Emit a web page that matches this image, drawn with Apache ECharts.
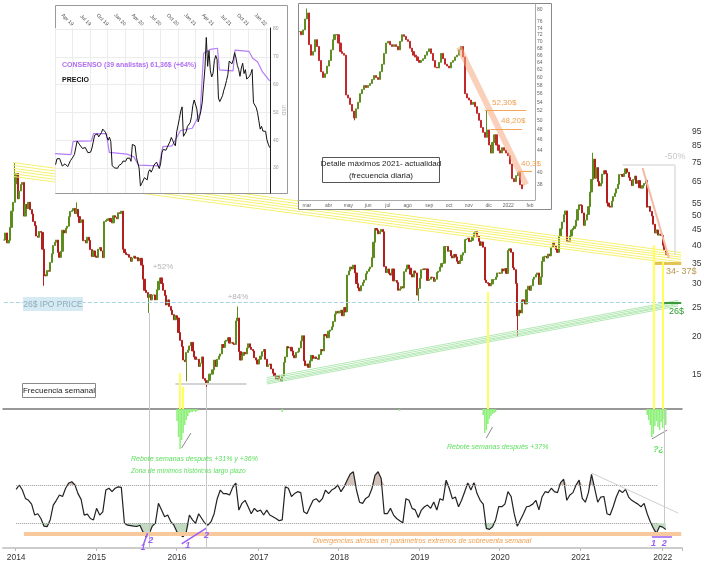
<!DOCTYPE html>
<html><head><meta charset="utf-8">
<script src="https://cdn.jsdelivr.net/npm/echarts@6/dist/echarts.min.js"></script>
<style>html,body{margin:0;padding:0;background:#fff}#c{width:714px;height:569px}</style>
</head><body><div id="c"></div>
<script>
// ---------------- DATA ----------------
// Weekly closes (USD), weeks ending Friday, starting 2013-11-08
const closes2013 = [41.7, 44.0, 40.8, 41.6, 45.9, 51.9, 55.5, 63.8];
const closes2014 = [69.0, 57.0, 60.5, 63.5, 64.5, 50.0, 54.6, 53.0, 55.5, 52.5, 50.8, 48.0, 46.5, 43.0, 42.6, 44.5, 44.2, 38.9, 32.0, 31.8, 33.1, 32.9, 35.2, 37.6, 40.0, 41.0, 41.7, 38.0, 36.6, 38.3, 44.9, 44.0, 45.6, 46.3, 49.8, 51.8, 52.1, 53.0, 51.0, 52.6, 49.8, 47.6, 48.6, 41.5, 41.6, 40.8, 42.6, 41.6, 38.8, 36.8, 38.4, 36.9];
const closes2015 = [36.6, 38.9, 39.4, 38.4, 36.5, 48.0, 48.4, 48.9, 49.1, 48.0, 47.5, 50.1, 49.6, 49.0, 51.3, 51.0, 51.9, 38.9, 37.9, 37.4, 37.3, 36.6, 35.5, 36.4, 36.9, 36.3, 36.5, 35.6, 36.3, 34.5, 31.0, 28.5, 28.0, 27.0, 27.6, 26.5, 27.5, 27.5, 26.5, 28.6, 30.5, 31.3, 30.0, 28.5, 27.4, 25.5, 26.5, 25.2, 24.5, 23.7, 22.8, 23.5];
const closes2016 = [23.1, 20.7, 19.5, 18.6, 16.8, 16.6, 17.8, 18.1, 18.7, 19.2, 18.0, 17.2, 16.9, 16.9, 16.0, 16.4, 17.2, 14.6, 14.4, 14.0, 14.4, 15.1, 15.1, 15.6, 16.8, 16.0, 16.9, 17.3, 17.6, 18.9, 18.5, 19.4, 19.5, 19.9, 19.1, 19.2, 19.0, 18.9, 22.6, 23.1, 17.9, 16.8, 17.4, 17.8, 17.6, 18.4, 19.0, 18.5, 18.2, 18.0, 17.1, 16.8, 16.3];
const closes2017 = [16.9, 17.3, 17.9, 18.2, 16.9, 16.0, 16.2, 16.3, 15.7, 15.2, 14.9, 14.5, 14.95, 14.6, 14.3, 14.9, 16.5, 17.2, 18.6, 18.4, 18.5, 18.0, 17.4, 17.1, 17.8, 17.9, 18.4, 19.4, 20.2, 16.7, 16.1, 16.3, 15.9, 16.7, 17.4, 17.0, 17.2, 17.0, 16.9, 17.5, 18.2, 18.0, 20.4, 20.2, 19.9, 20.9, 21.1, 21.6, 22.5, 23.8, 24.3, 24.0];
const closes2018 = [24.3, 24.5, 23.5, 25.0, 24.2, 32.0, 33.0, 34.0, 33.5, 34.5, 32.5, 30.0, 29.0, 28.4, 29.5, 30.2, 30.8, 32.3, 32.9, 33.5, 34.0, 36.5, 41.0, 45.5, 45.0, 43.7, 44.5, 45.2, 44.4, 34.1, 32.6, 33.5, 32.4, 32.0, 33.5, 30.6, 30.7, 30.2, 28.5, 28.8, 29.3, 29.0, 32.8, 33.5, 34.5, 33.7, 32.2, 31.5, 33.0, 32.5, 27.5, 28.9];
const closes2019 = [31.2, 33.3, 33.5, 33.4, 33.5, 30.7, 31.0, 31.5, 31.4, 30.5, 31.0, 32.6, 32.9, 34.0, 34.9, 35.0, 39.7, 39.7, 38.3, 38.5, 37.0, 36.4, 37.4, 36.7, 35.5, 34.9, 35.7, 37.2, 37.9, 41.8, 42.0, 42.3, 41.2, 41.6, 42.7, 44.0, 44.4, 42.9, 41.3, 40.0, 41.1, 39.5, 30.8, 30.2, 30.0, 29.5, 29.9, 30.9, 30.9, 31.5, 32.5, 32.5];
const closes2020 = [32.4, 33.5, 33.0, 33.6, 32.4, 38.5, 39.0, 38.0, 33.8, 33.3, 30.0, 23.5, 24.5, 24.0, 26.5, 26.3, 25.7, 28.6, 29.4, 28.5, 29.5, 31.0, 31.5, 32.1, 32.5, 29.8, 31.5, 35.5, 36.7, 36.9, 36.4, 37.5, 37.0, 39.5, 41.0, 39.9, 38.8, 38.0, 43.0, 45.4, 47.8, 50.5, 52.0, 41.4, 41.3, 43.0, 45.0, 45.5, 46.3, 48.5, 52.5, 54.5];
const closes2021 = [54.2, 51.2, 46.6, 48.5, 50.6, 53.7, 60.0, 66.0, 77.0, 66.6, 72.2, 65.0, 62.8, 64.1, 68.7, 70.5, 69.0, 55.2, 53.9, 53.5, 56.0, 58.0, 59.5, 61.5, 63.6, 68.5, 68.5, 67.5, 69.0, 71.5, 69.7, 67.0, 65.5, 63.0, 66.0, 67.7, 64.0, 65.4, 62.0, 61.8, 63.0, 64.0, 65.5, 53.5, 53.8, 51.8, 50.0, 47.0, 44.0, 45.0, 43.3, 43.6, 43.2];
const closes2022 = [40.1, 38.6, 37.35];
const wickHighs = [['2013-12-27', 74.7], ['2014-10-03', 55.5], ['2016-09-30', 25.2], ['2021-02-26', 80.8]];
const wickLows = [['2014-05-09', 29.5], ['2015-08-28', 24.0], ['2016-02-12', 14.3], ['2016-05-13', 13.7], ['2018-12-28', 26.3], ['2020-03-20', 20.0]];
const priceTicks = [15, 20, 25, 30, 35, 40, 45, 50, 55, 65, 75, 85, 95];
const lastPrice = 37.35;

// Weekly oscillator, one reading every 2 weeks from 2014-01-03
const osc2014 = [65.4, 70, 64.7, 56, 54, 50, 38.6, 40, 35, 27, 26.5, 33.5, 49, 54, 59.6, 58, 66.6, 72, 73.4, 70, 61, 55, 38.6, 39.6, 35, 33.5];
const osc2015 = [45.6, 38.6, 42, 64.7, 66.6, 63, 66.6, 68, 67.5, 30, 28, 27.5, 27, 26.7, 28, 21, 16, 19, 27, 30, 50.8, 43.8, 36.9, 38.6, 31.7, 28];
const osc2016 = [21, 17.7, 16, 21, 38.6, 33.5, 30, 40, 35, 30, 28, 31.7, 40, 55.7, 64.7, 61, 61, 59.6, 67.5, 72, 43.8, 50.8, 54, 47.3, 40, 45.6, 42.3];
const osc2017 = [43.8, 38.6, 43.8, 38.6, 36.9, 35, 32.7, 33.5, 68, 66.6, 58, 61, 63, 62, 42, 40, 47.3, 54, 55.7, 52.2, 55.7, 64.7, 61, 64.7, 66.6, 70];
const osc2018 = [63, 68, 75, 81.4, 83.8, 65, 52, 50.8, 56, 58, 66, 80, 83.8, 76.8, 40, 40, 45.6, 38.6, 35, 32.7, 30.5, 55.7, 54, 45.6, 44, 36];
const osc2019 = [43.8, 47.3, 49, 45.6, 52.2, 43.8, 55.7, 54, 75, 66.6, 55.7, 57.4, 47.3, 54, 63, 72, 64.7, 72.4, 61, 54, 50, 24.7, 23.6, 26.4, 33.5, 47.3];
const osc2020 = [47.3, 50, 63, 58, 40, 27, 33.5, 40, 47.3, 48, 50, 54, 44, 57.4, 63, 62, 66.6, 63, 62, 72.4, 76, 54, 59.6, 62, 70, 75];
const osc2021 = [56, 52, 62, 81, 66.6, 52, 57.4, 58, 40, 38.6, 47.3, 57.4, 64.7, 62, 65.4, 57.4, 54, 52, 50, 47.3, 50.8, 40, 31.7, 24.7, 19.5, 27, 26];
const osc2022 = [23.6];
const oscUpper = 70, oscLower = 30, oscExtreme = 19.5;

// Weekly histogram (depth below zero), blocks of consecutive weeks
const histBlocks = [
  ['2016-01-01', [12, 28, 40, 31, 24, 16, 11, 7, 4, 3, 3, 2, 3, 2]],
  ['2017-04-21', [3]],
  ['2018-10-05', [2]],
  ['2019-10-18', [6, 24, 21, 15, 10, 7, 5, 4, 3]],
  ['2021-10-29', [6, 11, 16, 28, 25, 17, 12, 18, 21, 13, 19, 10, 16]]
];

// Inset 1: analysts' consensus target (USD)
const consensusDates = ['2019-01-01','2019-03-25','2019-04-05','2019-07-10','2019-07-20','2019-09-25','2019-10-10','2020-01-10','2020-02-15','2020-03-10','2020-06-25','2020-07-15','2020-09-01','2020-10-15','2020-12-15','2021-01-25','2021-02-12','2021-03-20','2021-04-25','2021-05-05','2021-07-15','2021-07-25','2021-10-05','2021-10-25','2021-11-20','2021-12-15','2022-01-21'];
const consensusValues = [35.2, 34.8, 39.6, 39.8, 42.4, 42.4, 35.6, 35.0, 34.0, 31.0, 30.8, 37.7, 38.0, 43.5, 44.3, 49.7, 71.3, 72.7, 73.1, 65.3, 65.0, 72.4, 72.0, 69.5, 68.2, 64.6, 61.4];
const inset1Ticks = [30, 40, 50, 60, 70, 80];

// Inset 2: "daily" detail, one reading every 3 days from 2021-02-17
const dailyCloses = [73.0, 72.0, 73.5, 77.0,
  79.0, 69.0, 66.0, 67.0, 70.5, 68.5, 64.5, 61.5, 60.0, 61.0, 63.0,
  64.5, 67.5, 70.5, 72.0, 72.0, 69.5, 67.0, 66.5, 66.0, 55.7,
  55.0, 53.5, 52.0, 50.5, 52.5, 54.0, 56.0, 57.0, 58.0, 57.5,
  58.0, 58.5, 59.5, 60.5, 60.0, 59.5, 61.5, 63.5, 66.5, 69.5,
  70.0, 69.0, 68.5, 69.0, 68.5, 67.5, 70.0, 72.0, 71.5, 70.5,
  70.0, 68.0, 67.0, 66.0, 65.5, 64.5, 64.0, 64.5, 65.0, 66.0, 67.0,
  67.8, 66.5, 64.5, 62.7, 62.5, 64.0, 66.5, 65.0, 63.5, 63.0,
  62.5, 64.0, 64.5, 65.5, 66.0, 67.5, 68.5, 65.5, 56.0, 55.0,
  54.5, 53.5, 54.0, 53.0, 51.5, 50.0, 48.5, 47.5, 46.5, 48.0,
  45.0, 43.5, 45.5, 47.0, 45.0, 44.0, 43.5, 44.5, 44.0, 43.5,
  43.0, 41.5, 39.0, 38.5, 39.5, 40.0, 38.0, 37.35];
const dailyHighs = [['2021-03-01', 80.5], ['2021-11-29', 52.3]];
const dailyLows = [['2021-05-12', 50.0]];
const dailyTicks = [38, 40, 44, 46, 48, 50, 52, 54, 56, 58, 60, 62, 64, 66, 68, 70, 72, 74, 76, 80];
const levels2 = [52.3, 48.2, 40.3];

// ---------------- BUILD ----------------
const LN = Math.log, DAY = 864e5;
const fmt = t => new Date(t).toISOString().slice(0, 10);
const NW = 439;
const weekCats = Array.from({length: NW}, (_, i) => fmt(Date.UTC(2013, 10, 8) + i * 7 * DAY));
const closes = [].concat(closes2013, closes2014, closes2015, closes2016, closes2017, closes2018, closes2019, closes2020, closes2021, closes2022);
const hiMap = Object.fromEntries(wickHighs), loMap = Object.fromEntries(wickLows);
const candle = closes.map((c, i) => {
  const o = i ? closes[i - 1] : c, d = weekCats[i];
  const lo = loMap[d] || Math.min(o, c), hi = hiMap[d] || Math.max(o, c);
  return [LN(o), LN(c), LN(lo), LN(hi)];
});
const oscAll = [].concat(osc2014, osc2015, osc2016, osc2017, osc2018, osc2019, osc2020, osc2021, osc2022);
const oscPts = oscAll.map((v, k) => [weekCats[8 + 2 * k], v]);
const hiBase = oscPts.map(p => [p[0], oscUpper]);
const hiTop = oscPts.map(p => [p[0], Math.max(p[1], oscUpper) - oscUpper]);
const loBase = oscPts.map(p => [p[0], Math.min(p[1], oscLower)]);
const loTop = oscPts.map(p => [p[0], oscLower - Math.min(p[1], oscLower)]);
const histData = Array(NW).fill(null);
histBlocks.forEach(([d, arr]) => { const s = weekCats.indexOf(d); arr.forEach((v, j) => histData[s + j] = -v); });

const decYear = d => { const y = +d.slice(0, 4), t = Date.parse(d + 'T00:00:00Z'), a = Date.UTC(y, 0, 1), b = Date.UTC(y + 1, 0, 1); return y + (t - a) / (b - a); };
const inset1Price = closes.map((c, i) => [decYear(weekCats[i]), c]).filter(p => p[0] >= 2019);
const inset1Cons = consensusDates.map((d, i) => [decYear(d), consensusValues[i]]);

const cats2 = Array.from({length: 120}, (_, i) => fmt(Date.UTC(2021, 1, 17) + i * 3 * DAY));
const dHi = Object.fromEntries(dailyHighs), dLo = Object.fromEntries(dailyLows);
const candle2 = dailyCloses.map((c, i) => {
  const o = i ? dailyCloses[i - 1] : c, d = cats2[i];
  const lo = dLo[d] || Math.min(o, c), hi = dHi[d] || Math.max(o, c);
  return [LN(o), LN(c), LN(lo), LN(hi)];
});
const mesesES = ['ene','feb','mar','abr','may','jun','jul','ago','sep','oct','nov','dic'];

// price scale (log): 132 px per ln unit
const PMIN = LN(15) - 34 / 132, PMAX = LN(15) + 265 / 132;
const seg = (d1, v1, d2, v2, ls) => [{coord: [d1, v1], lineStyle: Object.assign({type: 'solid'}, ls)}, {coord: [d2, v2]}];
const P = LN;
const UP = '#5d8d1f', DOWN = '#b21f1f';
const FONT = 'Liberation Sans, Arial, sans-serif';

const yellowLeft = [75.0, 73.4, 71.8, 70.4, 68.9, 67.5], yellowRight = [37.9, 37.2, 36.6, 36.0, 35.3, 34.7];
const greenLeft = [14.7, 14.5, 14.3, 14.15, 14.0], greenRight = [26.4, 26.1, 25.8, 25.6, 25.3];
const ylw = {color: '#f6f070', width: 1}, grn = {color: '#b4e8b4', width: 1};
const mainLines = [];
yellowLeft.forEach((v, i) => mainLines.push(seg('2013-12-20', P(v), '2022-04-01', P(yellowRight[i]), ylw)));
greenLeft.forEach((v, i) => mainLines.push(seg('2017-02-10', P(v), '2022-03-18', P(greenRight[i]), grn)));
mainLines.push(seg('2013-11-08', P(26), '2022-04-01', P(26), {color: '#a6d3e6', type: 'dashed', width: 1}));
mainLines.push(seg('2015-12-25', P(14.0), '2016-11-11', P(14.0), {color: '#d4d4d4', width: 2}));
mainLines.push(seg('2021-07-09', P(73.5), '2022-03-04', P(73.5), {color: '#dedede', width: 1.5}));
mainLines.push(seg('2022-03-04', P(73.5), '2022-03-04', P(37.3), {color: '#dedede', width: 1.5}));
mainLines.push(seg('2021-10-08', P(72), '2022-02-04', P(36.4), {color: '#f3b9a2', width: 2}));
mainLines.push(seg('2021-12-03', P(35.1), '2022-04-01', P(35.1), {color: '#e3c25a', width: 3}));
mainLines.push(seg('2022-01-14', P(26), '2022-04-01', P(26), {color: '#3a9a3a', width: 2}));
[['2016-01-15', 15.2], ['2016-01-29', 13.7], ['2019-11-08', 28.1], ['2021-11-26', 40.1], ['2022-01-07', 35.3]].forEach(([d, v]) =>
  mainLines.push(seg(d, P(v), d, PMIN, {color: '#ffff55', width: 2})));
[['2015-08-28', 24.0], ['2016-05-13', 13.7]].forEach(([d, v]) =>
  mainLines.push(seg(d, P(v), d, PMIN, {color: '#c8c8c8', width: 1})));
mainLines.push([{coord: ['2022-01-21', P(lastPrice)], lineStyle: {opacity: 0},
  label: {show: true, position: 'end', formatter: '37,35', distance: 9, backgroundColor: '#f0c23c', color: '#222', fontWeight: 'bold', fontSize: 8, padding: [1, 2], fontFamily: FONT}},
  {coord: ['2022-04-01', P(lastPrice)]}]);

const gv = {color: '#c8c8c8', width: 1};
const histLines = [
  seg('2016-01-22', -39, '2016-03-04', -24, {color: '#888', width: 1}),
  seg('2019-11-01', -29, '2019-11-29', -18, {color: '#888', width: 1}),
  seg('2021-11-19', -30, '2022-01-28', -21, {color: '#888', width: 1}),
  seg('2015-08-28', 0, '2015-08-28', -46, gv),
  seg('2016-05-13', 0, '2016-05-13', -46, gv),
  seg('2022-01-14', 0, '2022-01-14', -46, gv)
];
const purple = {color: '#9a5cf5', width: 1.5};
const oscLines = [
  seg('2014-01-03', oscUpper, '2021-12-17', oscUpper, {color: '#999', type: 'dotted', width: 1}),
  seg('2014-01-03', oscLower, '2021-12-17', oscLower, {color: '#999', type: 'dotted', width: 1}),
  seg('2014-02-07', oscExtreme, '2022-04-01', oscExtreme, {color: '#f8c99c', width: 4}),
  seg('2015-07-31', 6.3, '2015-08-21', 19.8, purple),
  seg('2016-01-22', 8.4, '2016-05-13', 25, purple),
  seg('2021-11-19', 15.7, '2022-02-18', 15.7, purple),
  seg('2021-02-19', 82.5, '2022-03-18', 40.7, {color: '#cfcfcf', width: 1}),
  seg('2015-08-28', 101.3, '2015-08-28', 4.2, gv),
  seg('2016-05-13', 101.3, '2016-05-13', 4.2, gv),
  seg('2022-01-14', 101.3, '2022-01-14', oscLower, gv)
];
const lab = (d, v, t) => ({coord: [d, v], symbolSize: 0, label: {show: true, position: 'inside', formatter: t, color: '#9a5cf5', fontStyle: 'italic', fontWeight: 'bold', fontSize: 9, fontFamily: FONT}});
const oscLabels = [lab('2015-07-31', 5.2, '1'), lab('2015-09-04', 11.5, '2'), lab('2016-02-19', 6.3, '1'), lab('2016-05-13', 17.7, '2'), lab('2021-11-26', 8.4, '1'), lab('2022-01-14', 8.4, '2')];

const or = {color: '#f2a65a', width: 1.2};
const inset2Lines = [
  seg('2021-10-18', P(68.3), '2022-01-28', P(38.0), {color: 'rgba(245,170,130,0.55)', width: 6}),
  seg('2021-11-26', P(levels2[0]), '2022-01-28', P(levels2[0]), or),
  seg('2021-12-05', P(levels2[1]), '2022-01-22', P(levels2[1]), or),
  seg('2022-01-16', P(levels2[2]), '2022-02-06', P(levels2[2]), or),
  [{coord: ['2022-01-22', P(lastPrice)], lineStyle: {opacity: 0},
    label: {show: true, position: 'end', formatter: '37,35', distance: 3, backgroundColor: '#f0c23c', color: '#222', fontSize: 5, padding: [0, 1], fontFamily: FONT}},
   {coord: ['2022-02-09', P(lastPrice)]}]
];

const T = (x, y, text, o) => ({type: 'text', x, y, z: 20, style: Object.assign({text, fontFamily: FONT, fontSize: 8, fill: '#333', align: 'left', textAlign: 'left', verticalAlign: 'middle', textVerticalAlign: 'middle'}, o || {})});
const C = o => Object.assign({align: 'center', textAlign: 'center'}, o);

const graphics = [
  {type: 'rect', z: 8, shape: {x: 55.5, y: 5.5, width: 232, height: 188}, style: {fill: '#fff', stroke: '#999', lineWidth: 1}},
  {type: 'rect', z: 8, shape: {x: 298.5, y: 3.5, width: 253, height: 206}, style: {fill: '#fff', stroke: '#888', lineWidth: 1}},
  T(62, 65, 'CONSENSO (39 analistas) 61,36$ (+64%)', {fontSize: 7, fontWeight: 'bold', fill: '#b070f0'}),
  T(62, 80, 'PRECIO', {fontSize: 7, fontWeight: 'bold', fill: '#111'}),
  Object.assign(T(283, 110, 'USD', C({fontSize: 5, fill: '#aaa'})), {rotation: -Math.PI / 2}),
  {type: 'rect', z: 20, shape: {x: 322.5, y: 157.5, width: 117, height: 25}, style: {fill: '#fff', stroke: '#555', lineWidth: 1}},
  T(381, 164, 'Detalle máximos 2021- actualidad', C({fontSize: 8, fill: '#222'})),
  T(381, 176, '(frecuencia diaria)', C({fontSize: 8, fill: '#222'})),
  T(492, 103, '52,30$', {fontSize: 8, fill: '#f0a050'}),
  T(501, 121, '48,20$', {fontSize: 8, fill: '#f0a050'}),
  T(521, 164, '40,3$', {fontSize: 8, fill: '#f0a050'}),
  {type: 'rect', z: 20, shape: {x: 23, y: 297, width: 60, height: 14}, style: {fill: '#d5eaf2'}},
  T(53, 304.5, '26$ IPO PRICE', C({fontSize: 8.5, fill: '#8cadbd'})),
  {type: 'rect', z: 20, shape: {x: 22.5, y: 383.5, width: 73, height: 14}, style: {fill: '#fff', stroke: '#888', lineWidth: 1}},
  T(59, 391, 'Frecuencia semanal', C({fontSize: 8, fill: '#222'})),
  T(163, 267, '+52%', C({fontSize: 8, fill: '#b4b4b4'})),
  T(238, 297, '+84%', C({fontSize: 8, fill: '#b4b4b4'})),
  T(675, 157, '-50%', C({fontSize: 9, fill: '#c8c8c8'})),
  T(666, 272, '34- 37$', {fontSize: 9, fill: '#b8964e'}),
  T(669, 312, '26$', {fontSize: 9, fill: '#2e9e2e'}),
  T(131, 459, 'Rebote semanas después +31% y +36%', {fontSize: 7, fontStyle: 'italic', fill: '#5fe05f'}),
  T(131, 471, 'Zona de mínimos históricos largo plazo', {fontSize: 6.6, fontStyle: 'italic', fill: '#5fe05f'}),
  T(447, 447, 'Rebote semanas después +37%', {fontSize: 7, fontStyle: 'italic', fill: '#5fe05f'}),
  T(653, 450, '?¿', {fontSize: 9, fontWeight: 'bold', fontStyle: 'italic', fill: '#5fe05f'}),
  T(313, 541, 'Divergencias alcistas en parámetros extremos de sobreventa semanal', {fontSize: 7, fontStyle: 'italic', fill: '#f0a050'})
];

const yearInterval = (i, v) => v.slice(5, 7) === '01' && +v.slice(8, 10) <= 7;
const hiddenCat = (g) => ({type: 'category', gridIndex: g, data: weekCats, boundaryGap: true, axisLabel: {show: false}, axisTick: {show: false}, axisLine: {show: false}, splitLine: {show: false}});
const ML = {silent: true, symbol: ['none', 'none'], label: {show: false}, lineStyle: {type: 'solid'}};

const option = {
  animation: false,
  textStyle: {fontFamily: FONT},
  grid: [
    {left: 3, top: 110, width: 679, height: 299},
    {left: 3, top: 409, width: 679, height: 46},
    {left: 3, top: 455, width: 679, height: 93},
    {left: 55, top: 28, width: 215, height: 165},
    {left: 298, top: 4, width: 237, height: 196}
  ],
  xAxis: [
    hiddenCat(0),
    Object.assign(hiddenCat(1), {position: 'top', axisLine: {show: true, lineStyle: {color: '#777', width: 1.5}}}),
    Object.assign(hiddenCat(2), {axisLine: {show: true, lineStyle: {color: '#ccc', width: 2}},
      axisTick: {show: true, interval: yearInterval, length: 3, lineStyle: {color: '#bbb'}},
      axisLabel: {show: true, interval: yearInterval, formatter: v => v.slice(0, 4), fontSize: 8.5, color: '#333', margin: 5}}),
    {type: 'value', gridIndex: 3, position: 'top', min: 2019, max: 2022.06, interval: 0.25, z: 9,
      axisLine: {show: false}, axisTick: {show: false}, splitLine: {show: true, lineStyle: {color: '#ececec'}},
      axisLabel: {rotate: 45, fontSize: 5, color: '#444', showMinLabel: false, showMaxLabel: false, margin: 3,
        formatter: v => ['Jan', 'Apr', 'Jul', 'Oct'][Math.round((v - Math.floor(v)) * 4) % 4] + ' ' + String(Math.floor(v + 1e-6)).slice(2)}},
    {type: 'category', gridIndex: 4, data: cats2, boundaryGap: true, z: 9,
      axisLine: {show: true, lineStyle: {color: '#aaa'}}, axisTick: {show: false}, splitLine: {show: false},
      axisLabel: {fontSize: 5, color: '#666', margin: 3, interval: (i, v) => i > 0 && v.slice(5, 7) !== cats2[i - 1].slice(5, 7),
        formatter: v => v.slice(5, 7) === '01' ? v.slice(0, 4) : mesesES[+v.slice(5, 7) - 1]}}
  ],
  yAxis: [
    {type: 'value', gridIndex: 0, position: 'right', min: PMIN, max: PMAX, scale: true,
      axisLine: {show: false}, splitLine: {show: false},
      axisTick: {show: false, customValues: priceTicks.map(LN)},
      axisLabel: {customValues: priceTicks.map(LN), formatter: v => String(Math.round(Math.exp(v))), fontSize: 8.5, color: '#333', margin: 10}},
    {type: 'value', gridIndex: 1, min: -46, max: 0, show: false},
    {type: 'value', gridIndex: 2, min: 4.2, max: 101.3, show: false},
    {type: 'value', gridIndex: 3, position: 'right', min: 21, max: 80.4, z: 9,
      axisLine: {show: true, lineStyle: {color: '#222'}},
      axisTick: {show: false, customValues: inset1Ticks},
      splitLine: {show: true, lineStyle: {color: '#ececec'}},
      axisLabel: {customValues: inset1Ticks, fontSize: 5, color: '#999', margin: 3}},
    {type: 'value', gridIndex: 4, position: 'right', min: LN(80) - 190 / 234.7, max: LN(80) + 6 / 234.7, z: 9,
      axisLine: {show: true, lineStyle: {color: '#aaa'}}, splitLine: {show: false},
      axisTick: {show: false, customValues: dailyTicks.map(LN)},
      axisLabel: {customValues: dailyTicks.map(LN), formatter: v => String(Math.round(Math.exp(v))), fontSize: 5, color: '#666', margin: 2}}
  ],
  graphic: {elements: graphics},
  series: [
    {type: 'candlestick', xAxisIndex: 0, yAxisIndex: 0, data: candle, barWidth: 1.7, z: 2,
      itemStyle: {color: UP, color0: DOWN, borderColor: UP, borderColor0: DOWN, borderWidth: 1},
      markLine: Object.assign({z: 3, data: mainLines}, ML)},
    {type: 'bar', xAxisIndex: 1, yAxisIndex: 1, data: histData, barWidth: 1.5, itemStyle: {color: '#8ef07a'},
      markLine: Object.assign({data: histLines}, ML)},
    {type: 'line', xAxisIndex: 2, yAxisIndex: 2, data: hiBase, stack: 'hi', showSymbol: false, lineStyle: {opacity: 0}, z: 1},
    {type: 'line', xAxisIndex: 2, yAxisIndex: 2, data: hiTop, stack: 'hi', showSymbol: false, lineStyle: {opacity: 0}, areaStyle: {color: 'rgba(140,100,80,0.55)'}, z: 1},
    {type: 'line', xAxisIndex: 2, yAxisIndex: 2, data: loBase, stack: 'lo', showSymbol: false, lineStyle: {opacity: 0}, z: 1},
    {type: 'line', xAxisIndex: 2, yAxisIndex: 2, data: loTop, stack: 'lo', showSymbol: false, lineStyle: {opacity: 0}, areaStyle: {color: 'rgba(110,170,110,0.6)'}, z: 1},
    {type: 'line', xAxisIndex: 2, yAxisIndex: 2, data: oscPts, showSymbol: false, lineStyle: {color: '#222', width: 1.2}, z: 3,
      markLine: Object.assign({data: oscLines}, ML),
      markPoint: {silent: true, data: oscLabels}},
    {type: 'line', xAxisIndex: 3, yAxisIndex: 3, data: inset1Cons, showSymbol: false, lineStyle: {color: '#b57cf5', width: 1.2}, z: 10},
    {type: 'line', xAxisIndex: 3, yAxisIndex: 3, data: inset1Price, showSymbol: false, lineStyle: {color: '#111', width: 1}, z: 11},
    {type: 'candlestick', xAxisIndex: 4, yAxisIndex: 4, data: candle2, barWidth: 1.6, z: 10,
      itemStyle: {color: '#5f8f24', color0: '#c02a2a', borderColor: '#5f8f24', borderColor0: '#c02a2a', borderWidth: 1},
      markLine: Object.assign({z: 11, data: inset2Lines}, ML)}
  ]
};
echarts.init(document.getElementById('c'), null, {renderer: 'canvas'}).setOption(option);
</script></body></html>
